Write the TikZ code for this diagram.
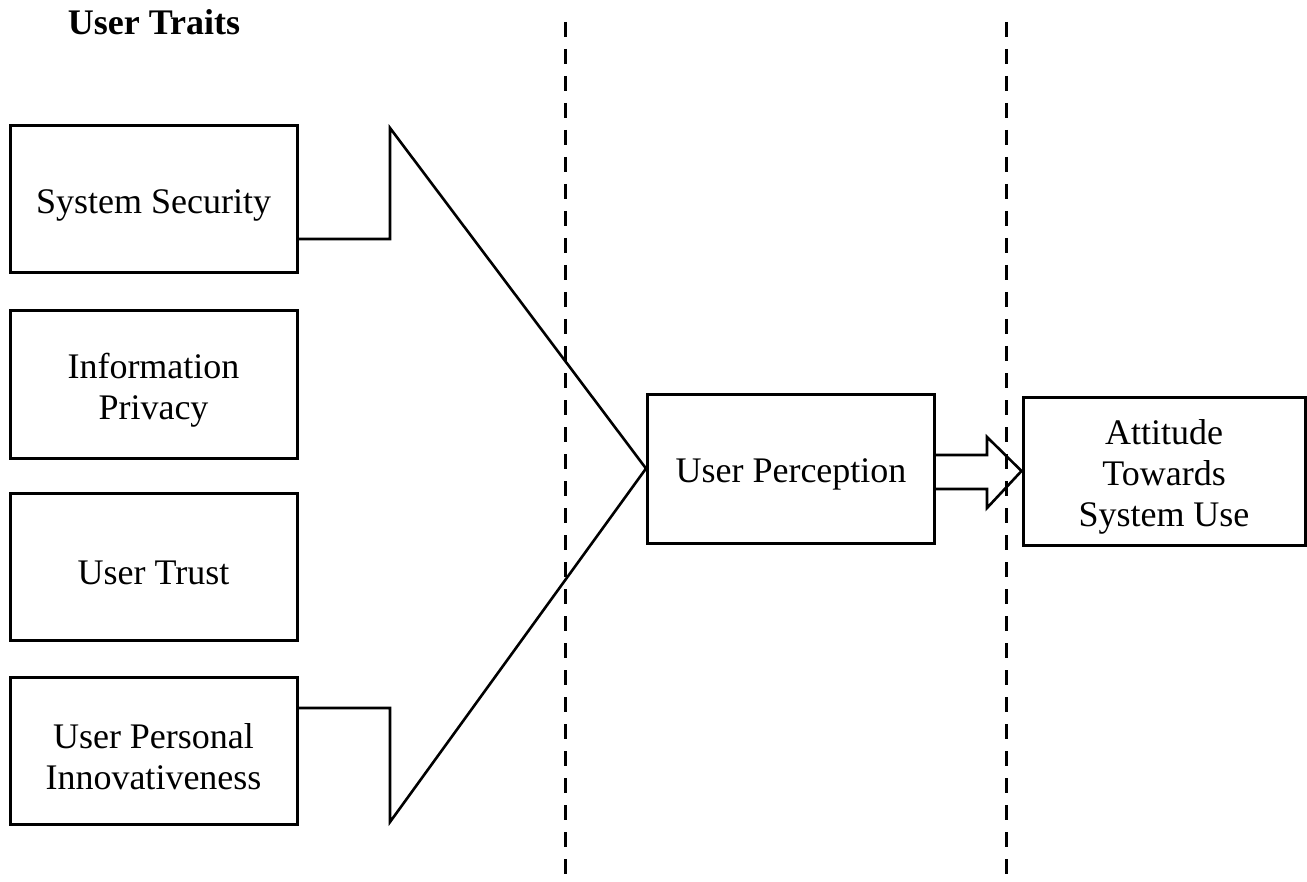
\documentclass[tikz,border=0pt]{standalone}
\usepackage{fontspec}
\setmainfont{Liberation Serif}
\begin{document}
\begin{tikzpicture}[x=0.5pt,y=-0.5pt,
  txt/.style={align=center,inner sep=0pt,font=\fontsize{18}{20.5}\selectfont,yshift=-3pt},
  box/.style={draw,line width=1.5pt,minimum width=143.5pt,minimum height=73.5pt,
    inner sep=0pt,label={[txt]center:#1}},
  conn/.style={draw,line width=1.3pt,line join=miter},
  divider/.style={draw,line width=1.5pt,dash pattern=on 7.5pt off 6pt}]
\useasboundingbox (0,0) rectangle (1307,882);
\node[font=\bfseries\fontsize{18}{20.5}\selectfont] (title) at (154,22) {User Traits};
\node[box={System Security}] (b1) at (153.5,199.5) {};
\node[box={Information\\Privacy}] (b2) at (153.5,384.5) {};
\node[box={User Trust}] (b3) at (153.5,567) {};
\node[box={User Personal\\Innovativeness}] (b4) at (153.5,751) {};
\node[box={User Perception},minimum height=74.5pt] (pp) at (791,468.5) {};
\node[box={Attitude\\Towards\\System Use},minimum width=141pt,minimum height=74pt] (att) at (1164,471) {};
\coordinate (d1top) at (565,22);
\coordinate (d1bot) at (565,882);
\coordinate (d2top) at (1006,22);
\coordinate (d2bot) at (1006,882);
\draw[divider] (d1top) -- (d1bot);
\draw[divider] (d2top) -- (d2bot);
\coordinate (c1) at (0,239);
\coordinate (c4) at (0,708);
\draw[conn] (b1.east |- c1) -- (390,239) -- (390,128) -- (pp.west) -- (390,822) -- (390,708) -- (b4.east |- c4);
\coordinate (s1) at (0,455);
\coordinate (s2) at (0,489);
\draw[conn] (pp.east |- s1) -- (987,455) -- (987,437) -- (att.west) -- (987,508) -- (987,489) -- (pp.east |- s2);
\end{tikzpicture}
\end{document}
